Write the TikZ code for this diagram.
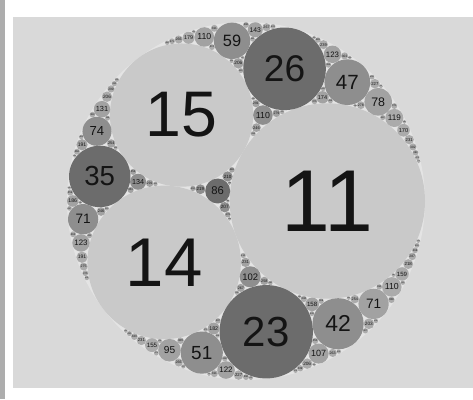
\documentclass[tikz,border=0pt]{standalone}
\usepackage{fontspec}
\setmainfont{Liberation Sans}
\usepackage{xcolor}
\definecolor{panel}{HTML}{D9D9D9}
\definecolor{sidebar}{HTML}{ADADAD}
\definecolor{gap}{HTML}{E4E4E4}
\definecolor{gen0}{HTML}{C9C9C9}
\definecolor{gen1}{HTML}{6C6C6C}
\definecolor{gen2}{HTML}{8E8E8E}
\definecolor{gen3}{HTML}{A2A2A2}
\definecolor{gen4}{HTML}{ABABAB}
\definecolor{ink}{HTML}{141414}

% a disc is stored as k,x,y with (x,y) = k * centre (scaled)
\def\apok#1,#2,#3;{#1}
\def\apox#1,#2,#3;{#2}
\def\apoy#1,#2,#3;{#3}
\def\apomax{600}

\def\apodisc#1#2{\apodiscx{#1}#2;}
\def\apodiscx#1#2,#3,#4;{%
  \pgfmathsetmacro\px{246+35.8*(#3/#2)}%
  \pgfmathsetmacro\py{198+35.8*(#4/#2)}%
  \pgfmathsetmacro\pr{1074/#2}%
  \pgfmathsetmacro\fs{550/#2}%
  \ifnum#1>4 \def\gc{gen4}\else\def\gc{gen#1}\fi
  \fill[\gc] (\px,\py) circle (\pr);
  \node[ink,inner sep=0pt,font=\fontsize{\fs pt}{\fs pt}\selectfont] (c#2) at (\px,\py) {#2};}

% reflect #2 in the three discs #3 #4 #5
\def\apokid#1#2#3#4#5{%
  \edef\nk{\the\numexpr 2*((\apok#3;)+(\apok#4;)+(\apok#5;))-(\apok#2;)\relax}%
  \ifnum\nk<\apomax\relax
    \edef\aponext{\noexpand\apostep{\the\numexpr#1\relax}%
      {\nk,\the\numexpr 2*((\apox#3;)+(\apox#4;)+(\apox#5;))-(\apox#2;)\relax,%
       \the\numexpr 2*((\apoy#3;)+(\apoy#4;)+(\apoy#5;))-(\apoy#2;)\relax}%
      {#3}{#4}{#5}}%
  \else\let\aponext\relax\fi
  \aponext}

\def\apostep#1#2#3#4#5{%
  \apodisc{#1}{#2}%
  \apokid{#1+1}{#3}{#4}{#5}{#2}%
  \apokid{#1+1}{#4}{#3}{#5}{#2}%
  \apokid{#1+1}{#5}{#3}{#4}{#2}}

\begin{document}
\begin{tikzpicture}[x=0.02cm,y=0.02cm]
  \useasboundingbox (0,0) rectangle (473,399);
  \fill[white] (0,0) rectangle (473,399);
  \fill[sidebar] (0,0) rectangle (5,399);
  \fill[panel] (13,11) rectangle (473,382);
  \fill[gap] (246,198) circle (179);
  % the three big discs inside the outer one (curvature -6)
  \apodisc{0}{11,25,0}
  \apodisc{0}{14,-32,-24}
  \apodisc{0}{15,-27,36}
  \apokid{1}{-6,0,0}{11,25,0}{14,-32,-24}{15,-27,36}
  \apokid{1}{11,25,0}{-6,0,0}{14,-32,-24}{15,-27,36}
  \apokid{1}{14,-32,-24}{-6,0,0}{11,25,0}{15,-27,36}
  \apokid{1}{15,-27,36}{-6,0,0}{11,25,0}{14,-32,-24}
\end{tikzpicture}
\end{document}
